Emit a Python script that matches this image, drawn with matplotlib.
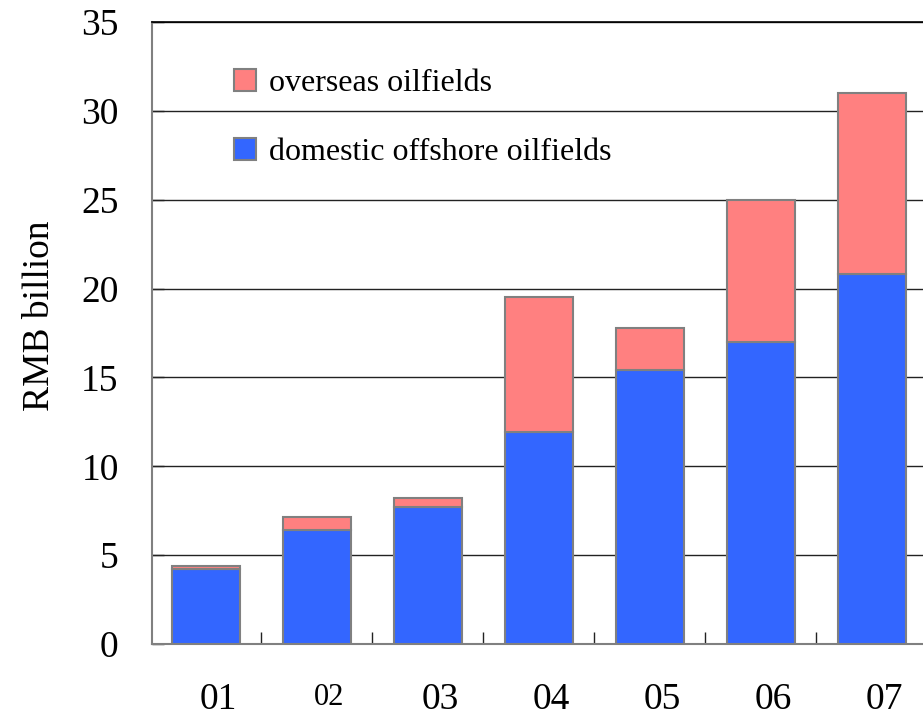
import matplotlib
matplotlib.use("Agg")
import matplotlib.pyplot as plt
import matplotlib.transforms as mtransforms
from matplotlib.patches import Patch
import numpy as np

# Annual figures, RMB billion
years = ["01", "02", "03", "04", "05", "06", "07"]
domestic = [4.2, 6.4, 7.7, 11.9, 15.4, 17.0, 20.8]
overseas = [0.2, 0.75, 0.5, 7.6, 2.4, 8.0, 10.2]

blue = "#3366FF"
pink = "#FF8080"
edge = "#808080"

plt.rcParams["font.family"] = ["Liberation Serif", "DejaVu Serif"]

fig = plt.figure(figsize=(9.23, 7.18), dpi=100)
ax = fig.add_axes([0.1647, 0.1031, 0.8353, 0.8663])

x = np.arange(len(years))
ax.bar(x, domestic, width=0.61, color=blue, edgecolor=edge, linewidth=1.5, zorder=3)
ax.bar(x, overseas, width=0.61, bottom=domestic, color=pink, edgecolor=edge,
       linewidth=1.5, zorder=3)

ax.set_xlim(-0.486, 6.46)
ax.set_ylim(0, 35)
ax.set_yticks(np.arange(0, 36, 5))
ax.yaxis.grid(True, color="#222222", linewidth=1.0, zorder=0)
ax.set_axisbelow(True)

ax.set_xticks(x)
ax.set_xticklabels(years)
ax.set_xticks(np.arange(0.5, 6.0, 1.0), minor=True)
ax.tick_params(axis="x", which="major", length=0, pad=28, labelsize=27)
ax.tick_params(axis="x", which="minor", direction="in", length=8.5,
               width=1.0, color="#222222")
ax.tick_params(axis="y", which="major", direction="in", length=8.5,
               width=1.0, color="#222222", pad=24, labelsize=27)

# year labels sit slightly right of the bar centres; "02" is a bit smaller
shift = mtransforms.ScaledTranslation(0.12, 0, fig.dpi_scale_trans)
for i, lbl in enumerate(ax.get_xticklabels()):
    lbl.set_transform(lbl.get_transform() + shift)
    if i == 1:
        lbl.set_fontsize(22)

for s in ["left", "bottom"]:
    ax.spines[s].set_color(edge)
    ax.spines[s].set_linewidth(1.5)
ax.spines["top"].set_color("black")
ax.spines["top"].set_linewidth(1.2)
ax.spines["right"].set_visible(False)

ax.set_ylabel("RMB billion", fontsize=27)
ax.yaxis.set_label_coords(-0.123, 0.527)

handles = [Patch(facecolor=pink, edgecolor=edge, linewidth=1.5, label="overseas oilfields"),
           Patch(facecolor=blue, edgecolor=edge, linewidth=1.5, label="domestic offshore oilfields")]
ax.legend(handles=handles, loc="upper left", bbox_to_anchor=(0.09, 0.945),
          frameon=False, fontsize=23, handlelength=0.69, handleheight=0.69,
          labelspacing=1.25, handletextpad=0.4, borderaxespad=0)

fig.savefig("out.png", dpi=100)
